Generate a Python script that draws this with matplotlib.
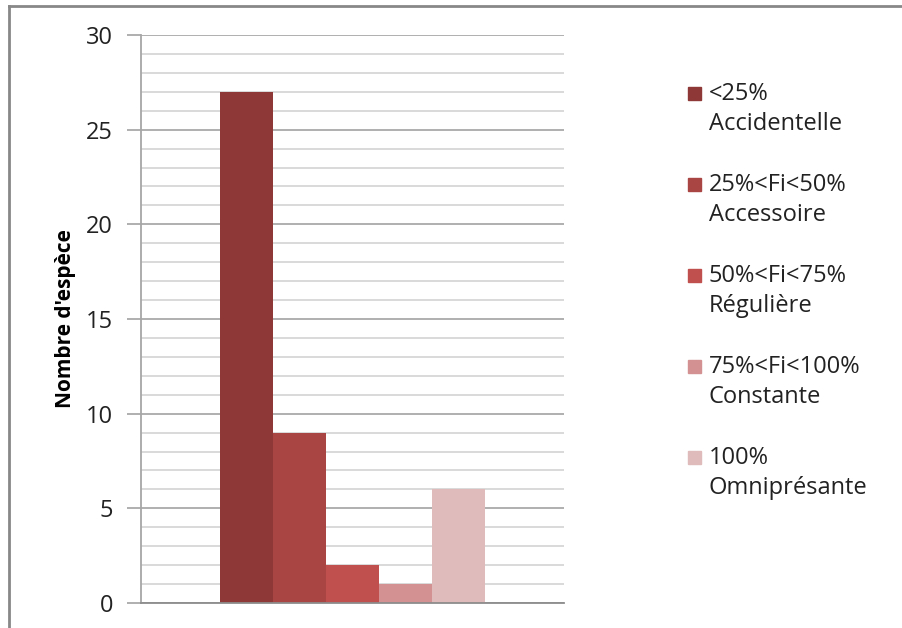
import matplotlib.pyplot as plt
from matplotlib.patches import Rectangle
from matplotlib.lines import Line2D

# data
range_labels = ['<25%', '25%<Fi<50%', '50%<Fi<75%', '75%<Fi<100%', '100%']
class_names = ['Accidentelle', 'Accessoire', 'Régulière', 'Constante', 'Omniprésante']
counts = [27, 9, 2, 1, 6]
colors = ['#8E3937', '#A94644', '#C0504D', '#D39291', '#E0BBBB']

plt.rcParams['font.family'] = ['Open Sans', 'DejaVu Sans']

W, H = 903, 628
fig = plt.figure(figsize=(W / 100, H / 100), dpi=100)
ax = fig.add_axes([141 / W, 1 - 603 / H, (564 - 141) / W, (603 - 35) / H])

bar_w = 0.125
n = len(counts)
for i, (val, col) in enumerate(zip(counts, colors)):
    x = (i - (n - 1) / 2) * bar_w
    ax.bar(x, val, width=bar_w, color=col, zorder=3, linewidth=0)

ax.set_xlim(-0.5, 0.5)
ax.set_ylim(0, 30)
ax.set_xticks([])
ax.set_yticks(range(0, 31, 5))
ax.set_yticks(range(0, 31), minor=True)
ax.grid(axis='y', which='minor', color='#CFCFCF', linewidth=1.1, zorder=0)
ax.grid(axis='y', which='major', color='#9A9A9A', linewidth=1.1, zorder=1)
ax.tick_params(axis='y', which='major', length=10, width=1.1, color='#9A9A9A',
               pad=10, labelsize=17, labelcolor='#222222')
ax.tick_params(axis='y', which='minor', length=0)

for s in ['top', 'right']:
    ax.spines[s].set_visible(False)
ax.spines['left'].set_color('#A6A6A6')
ax.spines['left'].set_linewidth(1.3)
ax.spines['bottom'].set_color('#8C8C8C')
ax.spines['bottom'].set_linewidth(1.3)
ax.spines['bottom'].set_zorder(4)

ax.set_ylabel("Nombre d'espèce", fontsize=15, fontweight='bold')
ax.yaxis.set_label_coords((76 - 141) / (564 - 141), 0.5)

# legend drawn by hand, handle aligned with first line
x_box, x_txt = 688 / W, 709 / W
first_base = 100
step = 91
line_gap = 30
for i, (rl, nm, col) in enumerate(zip(range_labels, class_names, colors)):
    yb = first_base + i * step
    fig.patches.append(Rectangle((x_box, 1 - yb / H), 13 / W, 13 / H,
                                 transform=fig.transFigure, color=col))
    fig.text(x_txt, 1 - yb / H, rl, fontsize=17, va='baseline', color='#222222')
    fig.text(x_txt, 1 - (yb + line_gap) / H, nm, fontsize=17, va='baseline', color='#222222')

# outer frame
fig.add_artist(Line2D([9 / W, 1], [1 - 6 / H, 1 - 6 / H], transform=fig.transFigure,
                      color='#888888', linewidth=2))
fig.add_artist(Line2D([9 / W, 9 / W], [0, 1 - 6 / H], transform=fig.transFigure,
                      color='#888888', linewidth=2))

fig.savefig('out.png', dpi=100)
